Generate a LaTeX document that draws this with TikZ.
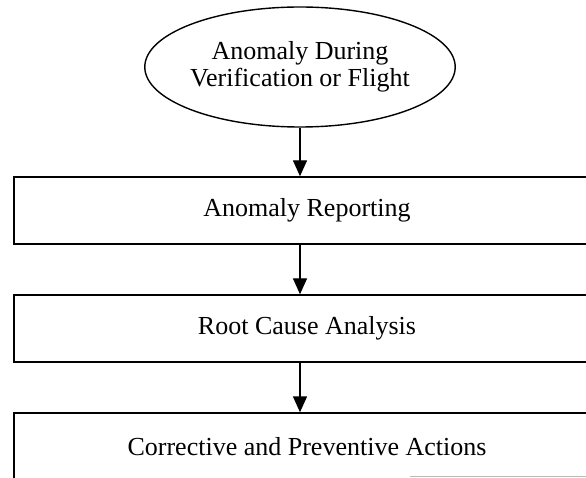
\documentclass[tikz,border=0pt]{standalone}
\usepackage{fontspec}
\setmainfont{Liberation Serif}
\usetikzlibrary{shapes.geometric,arrows.meta}
\begin{document}
\begin{tikzpicture}[x=1pt,y=-1pt,
  txt/.style={font=\fontsize{26}{27.5}\selectfont, align=center, text=black},
  ellbox/.style={ellipse, draw=black, line width=1.4pt, minimum width=296pt, minimum height=120pt, inner sep=0pt, txt},
  stepbox/.style={rectangle, draw=black, line width=1.4pt, minimum width=586pt, minimum height=67pt, inner sep=0pt, txt},
  arr/.style={draw=black, line width=1.4pt, -{Triangle[length=16pt,width=14pt]}}
]
\useasboundingbox (0,0) rectangle (586,478);
\fill[white] (0,0) rectangle (586,478);
\clip (0,0) rectangle (586,478);
\node[ellbox] (ell) at (300,67) {Anomaly During\\Verification or Flight};
\node[stepbox] (b1) at (307,210.5) {Anomaly Reporting};
\node[stepbox] (b2) at (307,328.5) {Root Cause Analysis};
\node[stepbox] (b3) at (307,446.5) {Corrective and Preventive Actions};
\draw[arr] (ell.south) -- (ell.south |- b1.north);
\draw[arr] (b1.south -| ell.south) -- (b2.north -| ell.south);
\draw[arr] (b2.south -| ell.south) -- (b3.north -| ell.south);
\coordinate (g1) at (410,476.5);
\coordinate (g2) at (586,476.5);
\draw[gray!55, line width=1pt] (g1) -- (g2);
\end{tikzpicture}
\end{document}
